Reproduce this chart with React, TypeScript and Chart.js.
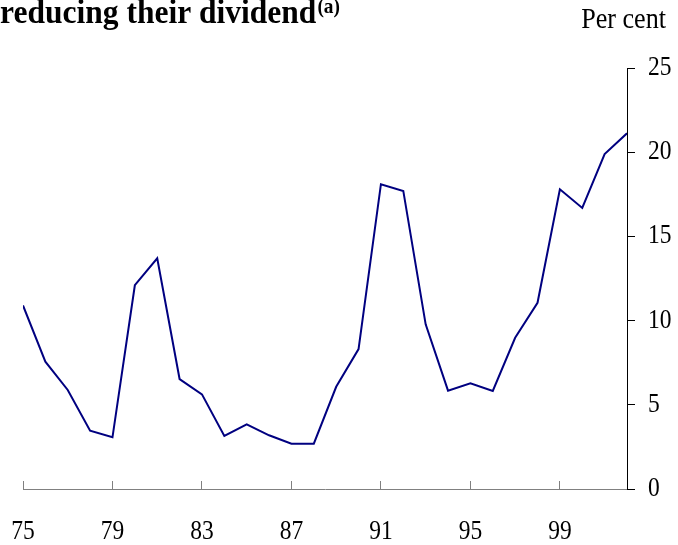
import React, { useEffect, useRef } from "react";
import { Chart, registerables } from "chart.js";

Chart.register(...registerables);

const years = [
  1975, 1976, 1977, 1978, 1979, 1980, 1981, 1982, 1983, 1984, 1985, 1986, 1987, 1988,
  1989, 1990, 1991, 1992, 1993, 1994, 1995, 1996, 1997, 1998, 1999, 2000, 2001, 2002,
];
const shareReducing = [
  10.9, 7.56, 5.88, 3.46, 3.07, 12.1, 13.7, 6.53, 5.62, 3.15, 3.84, 3.19, 2.69, 2.69,
  6.07, 8.31, 18.1, 17.7, 9.78, 5.84, 6.28, 5.82, 8.98, 11.06, 17.8, 16.69, 19.89, 21.12,
];
const xTickYears = [1975, 1979, 1983, 1987, 1991, 1995, 1999];
const yTicks = [0, 5, 10, 15, 20, 25];

const titleText = "reducing their dividend";
const titleSup = "(a)";
const unitText = "Per cent";

const SERIF = '"Liberation Serif", "Times New Roman", serif';

function drawText(ctx: any, text: string, x: number, y: number, font: string, sx: number, align: string) {
  ctx.save();
  ctx.font = font;
  ctx.textAlign = align;
  ctx.textBaseline = "alphabetic";
  ctx.translate(x, y);
  ctx.scale(sx, 1);
  ctx.fillText(text, 0, 0);
  const w = ctx.measureText(text).width * sx;
  ctx.restore();
  return w;
}

const textPlugin = {
  id: "textPlugin",
  afterDraw(chart: any) {
    const ctx = chart.ctx;
    ctx.save();
    ctx.fillStyle = "#000000";
    // title (partly cut at top, as in the reference)
    const w = drawText(ctx, titleText, 0, 23, `bold 34px ${SERIF}`, 0.927, "left");
    drawText(ctx, titleSup, w + 1, 13, `bold 22px ${SERIF}`, 0.88, "left");
    // unit label
    drawText(ctx, unitText, 666, 27.5, `29px ${SERIF}`, 0.9, "right");
    // axis tick labels, placed through the chart scales
    const xs = chart.scales.x;
    const ys = chart.scales.y;
    for (const t of xs.ticks) {
      const px = xs.getPixelForValue(t.value);
      drawText(ctx, String(t.value).slice(2), px, 539, `27px ${SERIF}`, 0.87, "center");
    }
    for (const t of ys.ticks) {
      const py = ys.getPixelForValue(t.value);
      drawText(ctx, String(t.value), ys.left + 21, py + 7, `27px ${SERIF}`, 0.87, "left");
    }
    ctx.restore();
  },
};

export default function App() {
  const ref = useRef<HTMLCanvasElement | null>(null);

  useEffect(() => {
    if (!ref.current) return;
    const chart = new Chart(ref.current, {
      type: "line",
      data: {
        datasets: [
          {
            data: years.map((y, i) => ({ x: y, y: shareReducing[i] })),
            borderColor: "#000080",
            borderWidth: 2,
            pointRadius: 0,
            tension: 0,
            fill: false,
          },
        ],
      },
      options: {
        animation: false,
        responsive: false,
        maintainAspectRatio: false,
        layout: { padding: { left: 23, top: 68, right: 0, bottom: 0 } },
        plugins: {
          legend: { display: false },
          tooltip: { enabled: false },
          title: { display: false },
        },
        scales: {
          x: {
            type: "linear",
            min: 1975,
            max: 2002,
            afterBuildTicks: (scale: any) => {
              scale.ticks = xTickYears.map((v) => ({ value: v }));
            },
            afterFit: (scale: any) => {
              scale.height = 56;
            },
            grid: {
              display: true,
              drawOnChartArea: false,
              drawTicks: true,
              tickLength: -8,
              color: "#808080",
              lineWidth: 1,
            },
            border: { display: true, color: "#808080", width: 1 },
            ticks: { display: false },
          },
          y: {
            type: "linear",
            position: "right",
            min: 0,
            max: 25,
            afterBuildTicks: (scale: any) => {
              scale.ticks = yTicks.map((v) => ({ value: v }));
            },
            afterFit: (scale: any) => {
              scale.width = 51;
            },
            grid: {
              display: true,
              drawOnChartArea: false,
              drawTicks: true,
              tickLength: 8,
              color: "#000000",
              lineWidth: 1,
            },
            border: { display: true, color: "#000000", width: 1 },
            ticks: { display: false },
          },
        },
      },
      plugins: [textPlugin],
    });
    return () => chart.destroy();
  }, []);

  return (
    <div style={{ position: "fixed", left: 0, top: 0, width: 678, height: 545, background: "#ffffff" }}>
      <canvas ref={ref} width={678} height={545} style={{ display: "block", width: 678, height: 545 }} />
    </div>
  );
}
